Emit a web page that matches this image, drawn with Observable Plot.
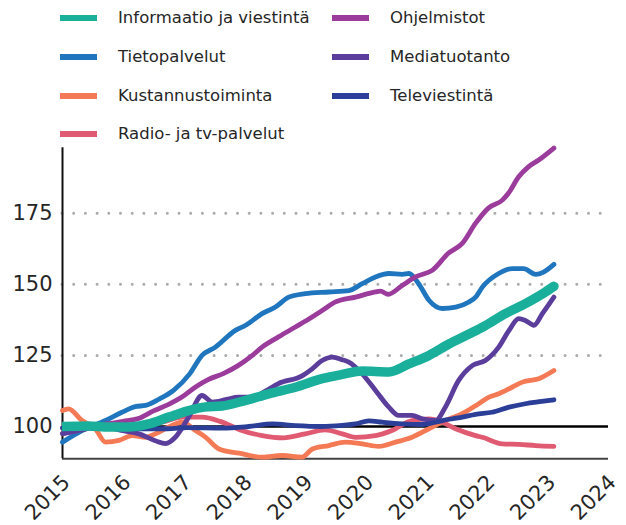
<!DOCTYPE html>
<html><head><meta charset="utf-8">
<script src="https://cdn.jsdelivr.net/npm/d3@7"></script>
<script src="https://cdn.jsdelivr.net/npm/@observablehq/plot@0.6"></script>
<style>
body{margin:0;background:#fff;font-family:"DejaVu Sans",sans-serif;}
#wrap{position:relative;width:626px;height:525px;overflow:hidden}
#legend{position:absolute;left:0;top:0;width:626px;height:140px}
.sw{position:absolute;height:6px;width:37px}
.lb{position:absolute;font-size:16.5px;color:#262626;line-height:20px;white-space:nowrap}
#chart{position:absolute;left:0;top:140px}
</style></head><body>
<div id="wrap"><div id="legend"></div><div id="chart"></div></div>
<script>
// ---- data (year, index 2015 = 100) ----
const seriesNames = ["Informaatio ja viestintä","Tietopalvelut","Kustannustoiminta","Radio- ja tv-palvelut","Ohjelmistot","Mediatuotanto","Televiestintä"];
const seriesColors = ["#1aaf9b","#1f76be","#f47a55","#e05a71","#9b3b9b","#5b3e9c","#2c3f98"];
const xTicks = [2015,2016,2017,2018,2019,2020,2021,2022,2023,2024];
const yTicks = [100,125,150,175];
const gridValues = [125,150,175];

const informaatio = [[2015.0,100],[2015.43,100.2],[2015.76,99.8],[2016.09,99.8],[2016.42,100.9],[2016.75,103.3],[2017.08,105.6],[2017.33,106.8],[2017.63,107.2],[2018.02,109.2],[2018.4,111.5],[2018.84,113.8],[2019.28,116.8],[2019.61,118.3],[2019.94,119.5],[2020.38,119.2],[2020.71,122],[2021.04,125],[2021.37,129],[2021.7,132.5],[2021.97,135.5],[2022.3,139.7],[2022.63,143.2],[2022.96,147.3],[2023.1,149.3]];
const tietopalvelut = [[2015.0,94.5],[2015.33,98.6],[2015.71,102.1],[2015.98,105],[2016.2,107],[2016.37,107.4],[2016.6,109.7],[2016.83,112.7],[2017.1,118.6],[2017.3,125],[2017.52,127.9],[2017.85,133.8],[2018.02,135.6],[2018.29,139.7],[2018.51,142],[2018.73,145.5],[2019.0,146.7],[2019.39,147.3],[2019.72,147.8],[2019.94,150.2],[2020.16,152.6],[2020.38,153.8],[2020.6,153.5],[2020.71,153.8],[2020.87,150.2],[2021.04,144.4],[2021.26,141.5],[2021.48,142],[2021.7,143.8],[2021.81,145.5],[2021.92,149],[2022.19,153.8],[2022.41,155.5],[2022.6,155.5],[2022.8,153.5],[2022.93,154.3],[2023.1,157]];
const kustannus = [[2015.0,105.6],[2015.1,106.2],[2015.32,102.1],[2015.54,99.2],[2015.71,94.5],[2015.93,95.1],[2016.15,96.8],[2016.37,96.2],[2016.53,97.4],[2016.75,99.8],[2016.97,101.5],[2017.19,98.6],[2017.36,96.2],[2017.58,92.1],[2017.91,90.6],[2018.29,89.2],[2018.62,89.8],[2018.95,89.2],[2019.12,92.1],[2019.39,93.3],[2019.66,94.5],[2019.94,93.9],[2020.21,93],[2020.49,94.5],[2020.76,96.2],[2021.04,99.2],[2021.31,102.1],[2021.59,104.5],[2021.86,108],[2022.03,110.3],[2022.19,111.5],[2022.41,113.8],[2022.58,115.6],[2022.85,116.8],[2023.1,119.7]];
const radioTv = [[2015.0,99.5],[2015.5,100],[2016.0,100],[2016.3,100.5],[2016.64,101.5],[2016.97,103.3],[2017.3,103.3],[2017.6,101.8],[2017.93,98.8],[2018.29,96.8],[2018.64,96],[2019.0,97.4],[2019.33,98.8],[2019.61,97.4],[2019.83,96.2],[2020.16,96.8],[2020.43,98.6],[2020.76,102.1],[2021.04,102.7],[2021.26,101.5],[2021.48,99.2],[2021.81,96.8],[2021.92,96.2],[2022.25,93.9],[2022.52,93.7],[2022.8,93.3],[2023.1,93]];
const ohjelmistot = [[2015.0,97.5],[2015.25,98.5],[2015.5,100],[2015.75,101],[2016.0,101.8],[2016.25,102.8],[2016.5,105.5],[2016.75,107.8],[2017.0,110.8],[2017.2,114],[2017.4,116.5],[2017.65,118.6],[2017.9,121.5],[2018.13,125],[2018.29,127.9],[2018.56,131.5],[2018.84,135],[2019.0,137],[2019.28,140.8],[2019.5,143.8],[2019.83,145.5],[2020.16,147.3],[2020.24,147.6],[2020.37,146.5],[2020.6,149.6],[2020.82,152.6],[2021.1,155],[2021.36,160.9],[2021.59,164.4],[2021.81,171.5],[2022.02,176.8],[2022.25,179.6],[2022.35,182],[2022.52,187.8],[2022.68,191.3],[2022.85,193.7],[2023.1,197.9]];
const mediatuotanto = [[2015.0,97.5],[2015.25,98.5],[2015.5,99.5],[2015.75,99.5],[2016.0,98.5],[2016.26,97.4],[2016.53,95],[2016.7,94],[2016.86,96.2],[2017.08,103.3],[2017.3,110.9],[2017.47,108.6],[2017.7,109.5],[2017.9,110.3],[2018.13,110.3],[2018.35,112.5],[2018.56,115.1],[2018.95,117.8],[2019.1,120],[2019.28,123.2],[2019.45,124.4],[2019.61,123.5],[2019.72,122.6],[2019.94,118.5],[2020.16,112.7],[2020.38,106.8],[2020.54,103.9],[2020.76,103.9],[2020.93,102.7],[2021.15,102.1],[2021.31,106.8],[2021.53,116.2],[2021.76,121.5],[2021.97,123.2],[2022.19,127.9],[2022.36,133.8],[2022.52,137.9],[2022.63,137.3],[2022.77,135.6],[2022.91,139.7],[2023.1,145.5]];
const televiestinta = [[2015.0,99.5],[2015.5,99.8],[2016.0,99.5],[2016.18,99.2],[2016.73,99.2],[2017.06,99.6],[2017.63,99.4],[2018.07,100],[2018.46,100.9],[2018.84,100.3],[2019.28,100],[2019.61,100.4],[2019.83,100.9],[2020.05,102],[2020.27,101.5],[2020.6,100.9],[2020.93,100.7],[2021.26,102.1],[2021.59,103.3],[2021.81,104.3],[2022.08,105],[2022.36,106.8],[2022.63,108],[2022.9,108.8],[2023.1,109.4]];

const seriesData = [informaatio, tietopalvelut, kustannus, radioTv, ohjelmistot, mediatuotanto, televiestinta];
const rows = seriesData.flatMap((s, i) => s.map(([t, v]) => ({name: seriesNames[i], t, v})));

// ---- legend ----
const legend = document.getElementById("legend");
const legendCols = [[0,1,2,3],[4,5,6]];
const colX = [{sw:60, tx:118},{sw:332, tx:390}];
const rowY = [18.3, 57.3, 96, 134.3];
legendCols.forEach((col, ci) => col.forEach((si, ri) => {
  const sw = document.createElement("div");
  sw.className = "sw";
  sw.style.left = colX[ci].sw + "px";
  sw.style.top = (rowY[ri] - 3) + "px";
  sw.style.background = seriesColors[si];
  legend.appendChild(sw);
  const lb = document.createElement("div");
  lb.className = "lb";
  lb.style.left = colX[ci].tx + "px";
  lb.style.top = (rowY[ri] - 10) + "px";
  lb.textContent = seriesNames[si];
  legend.appendChild(lb);
}));

// ---- chart ----
const yMin = 88.64, yMax = 198, xEnd = 2024;
const drawOrder = [1, 2, 3, 4, 5, 6, 0];
const widths = [9.5, 4.8, 4.8, 4.8, 4.8, 4.8, 4.8];
const lineMarks = drawOrder.map(i => Plot.line(rows.filter(d => d.name === seriesNames[i]), {
  x: "t", y: "v", stroke: "name", strokeWidth: widths[i], curve: "monotone-x",
  strokeLinecap: "round", strokeLinejoin: "round", clip: i === 0
}));

const chart = Plot.plot({
  width: 626, height: 385,
  marginTop: 7.3, marginBottom: 66.7, marginLeft: 62, marginRight: 18,
  style: {fontFamily: "DejaVu Sans, sans-serif", color: "#262626", background: "transparent", overflow: "visible"},
  x: {domain: [2015, 2024]},
  y: {domain: [yMin, yMax]},
  color: {domain: seriesNames, range: seriesColors},
  marks: [
    Plot.ruleY(gridValues, {x1: 2015, x2: xEnd, stroke: "#aaaaaa", strokeWidth: 3, strokeDasharray: "0,11.7", strokeLinecap: "round"}),
    Plot.ruleY([100], {x1: 2015, x2: xEnd, stroke: "#000", strokeWidth: 2.5}),
    Plot.ruleY([yMin], {x1: 2015, x2: xEnd, stroke: "#444", strokeWidth: 2}),
    Plot.ruleX([2015], {y1: yMin, y2: yMax, stroke: "#111", strokeWidth: 2}),
    Plot.axisY({ticks: yTicks, tickSize: 0, tickPadding: 10, fontSize: 21, label: null}),
    Plot.axisX({ticks: xTicks, tickFormat: d => String(d), tickSize: 0, tickRotate: -45, tickPadding: 18, dx: 4, dy: 2, fontSize: 21, label: null}),
    ...lineMarks
  ]
});
document.getElementById("chart").appendChild(chart);
</script>
</body></html>
